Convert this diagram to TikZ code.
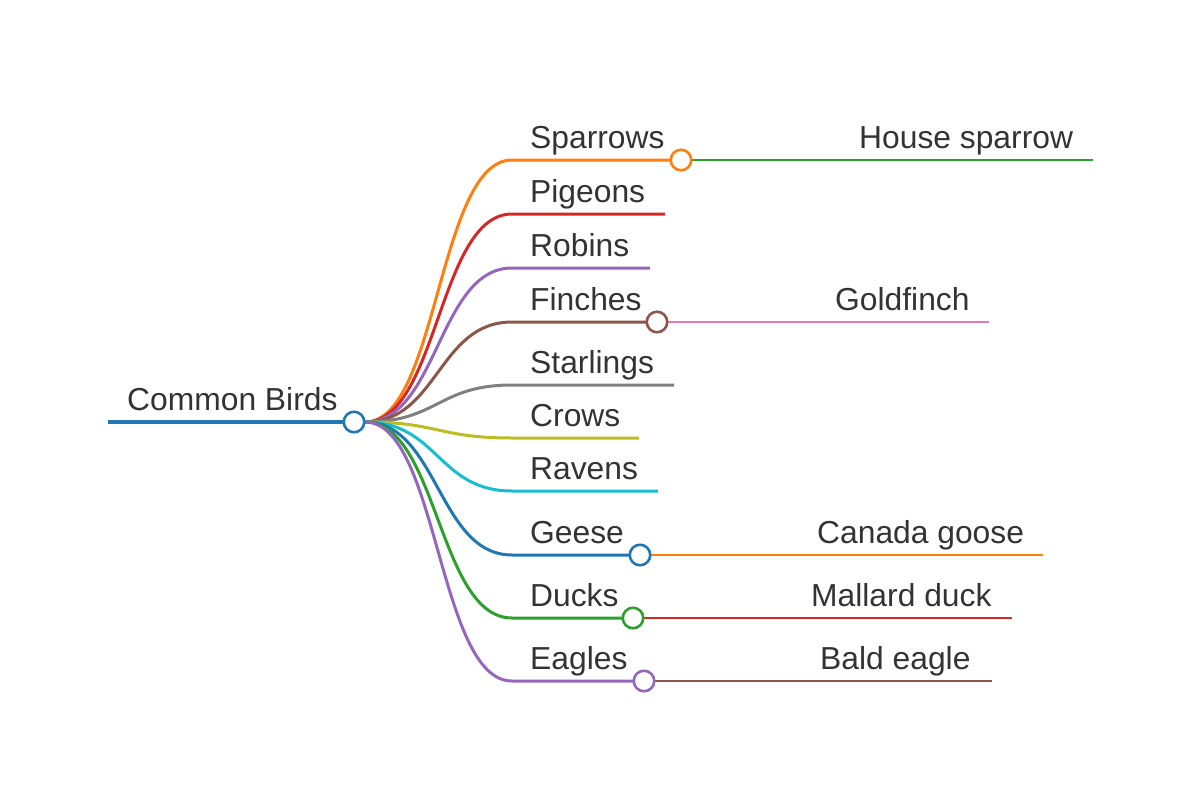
\documentclass[tikz,border=0pt]{standalone}
\usepackage{fontspec}
\setmainfont{Liberation Sans}
\definecolor{txt}{HTML}{333333}
\definecolor{cblue}{HTML}{1F77B4}
\definecolor{corange}{HTML}{FF7F0E}
\definecolor{cgreen}{HTML}{2CA02C}
\definecolor{cred}{HTML}{D62728}
\definecolor{cpurple}{HTML}{9467BD}
\definecolor{cbrown}{HTML}{8C564B}
\definecolor{cpink}{HTML}{E377C2}
\definecolor{cgray}{HTML}{7F7F7F}
\definecolor{colive}{HTML}{BCBD22}
\definecolor{ccyan}{HTML}{17BECF}
\begin{document}
\begin{tikzpicture}[x=1pt,y=-1pt,
  lbl/.style={anchor=base west, inner sep=0pt, text=txt, font=\fontsize{31.8}{36}\selectfont},
  dot/.style={circle, draw=#1, fill=white, line width=2.6pt, minimum size=20.5pt, inner sep=0pt},
  rootline/.style={line width=4.6pt},
  kidline/.style={line width=3pt},
  leafline/.style={line width=2.4pt}]
\useasboundingbox (0,0) rectangle (1200,800);

% root topic
\coordinate (root-s) at (108,422);
\coordinate (root-e) at (354,422);
\node[lbl] (root-t) at (127,410) {Common Birds};
\draw[cblue, rootline] (root-s) -- (root-e);

% first level: links from the root, then underlines
\foreach \n/\yy/\xe/\c/\t in {
  spa/160/681/corange/Sparrows,
  pig/214/665/cred/Pigeons,
  rob/268/650/cpurple/Robins,
  fin/322/657/cbrown/Finches,
  sta/385/674/cgray/Starlings,
  cro/438/639/colive/Crows,
  rav/491/658/ccyan/Ravens,
  gee/555/640/cblue/Geese,
  duc/618/633/cgreen/Ducks,
  eag/681/644/cpurple/Eagles}{
  \coordinate (\n-s) at (512,\yy);
  \coordinate (\n-e) at (\xe,\yy);
  \node[lbl] (\n-t) at (530,\yy-11.5) {\t};
  \draw[\c, kidline] (365,422) .. controls (438,422) and (438,\yy) .. (\n-s) -- (\n-e);
}

% second level: links from the branch ends, then underlines
\foreach \p/\g/\yy/\xs/\xe/\c/\t in {
  spa/hou/160/841/1093/cgreen/House sparrow,
  fin/gol/322/817/989/cpink/Goldfinch,
  gee/can/555/799/1043/corange/Canada goose,
  duc/mal/618/793/1012/cred/Mallard duck,
  eag/bal/681/802/992/cbrown/Bald eagle}{
  \coordinate (\g-s) at (\xs,\yy);
  \coordinate (\g-e) at (\xe,\yy);
  \node[lbl] (\g-t) at (\xs+18,\yy-11.5) {\t};
  \draw[\c, leafline] (\p-e) -- (\g-s) -- (\g-e);
}

% fold markers
\node[dot=cblue] (root-dot) at (root-e) {};
\node[dot=corange] (spa-dot) at (spa-e) {};
\node[dot=cbrown] (fin-dot) at (fin-e) {};
\node[dot=cblue] (gee-dot) at (gee-e) {};
\node[dot=cgreen] (duc-dot) at (duc-e) {};
\node[dot=cpurple] (eag-dot) at (eag-e) {};
\end{tikzpicture}
\end{document}
